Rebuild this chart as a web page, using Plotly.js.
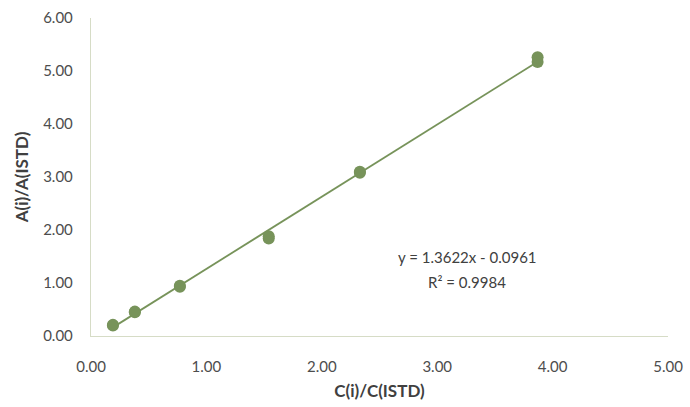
<!DOCTYPE html>
<html>
<head>
<meta charset="utf-8">
<script src="https://cdn.plot.ly/plotly-3.0.1.min.js"></script>
<style>html,body{margin:0;padding:0;background:#fff}#chart{width:690px;height:407px}</style>
</head>
<body>
<div id="chart"></div>
<script>
// Data
const concRatio = [0.19, 0.19, 0.38, 0.38, 0.77, 0.77, 1.54, 1.54, 2.33, 2.33, 3.87, 3.87];
const areaRatio = [0.20, 0.21, 0.45, 0.46, 0.93, 0.95, 1.84, 1.88, 3.08, 3.10, 5.17, 5.26];
const slope = 1.3622;
const intercept = -0.0961;
const rSquared = 0.9984;
const xTicks = [0, 1, 2, 3, 4, 5];
const yTicks = [0, 1, 2, 3, 4, 5, 6];

const xMin = Math.min(...concRatio), xMax = Math.max(...concRatio);
const trendX = [xMin, xMax];
const trendY = trendX.map(v => slope * v + intercept);

const green = '#77935a';
const font = 'Lato, "Open Sans", "Liberation Sans", sans-serif';

const data = [
  {x: trendX, y: trendY, mode: 'lines', type: 'scatter',
   line: {color: green, width: 1.8}, hoverinfo: 'skip', showlegend: false},
  {x: concRatio, y: areaRatio, mode: 'markers', type: 'scatter',
   marker: {color: green, size: 12}, showlegend: false}
];

const layout = {
  width: 690, height: 407,
  margin: {l: 91, r: 22, t: 18, b: 71},
  paper_bgcolor: '#fff', plot_bgcolor: '#fff',
  font: {family: font, size: 15, color: '#4d4d4d'},
  xaxis: {
    range: [0, 5], tickvals: xTicks, ticktext: xTicks.map(v => v.toFixed(2)),
    showgrid: false, zeroline: false, showline: true, linecolor: '#d6dcc6', linewidth: 1.2,
    ticks: 'outside', ticklen: 17, tickcolor: 'rgba(0,0,0,0)',
    title: {text: '<b>C(i)/C(ISTD)</b>', font: {size: 17, color: '#404040', family: font}, standoff: 10}
  },
  yaxis: {
    range: [0, 6], tickvals: yTicks, ticktext: yTicks.map(v => v.toFixed(2)),
    showgrid: false, zeroline: false, showline: true, linecolor: '#d6dcc6', linewidth: 1.2,
    ticks: 'outside', ticklen: 14, tickcolor: 'rgba(0,0,0,0)',
    title: {text: '<b>A(i)/A(ISTD)</b>', font: {size: 17, color: '#404040', family: font}, standoff: 10}
  },
  annotations: [
    {xref: 'x', yref: 'y', x: 3.26, y: 1.49, showarrow: false,
     text: 'y = ' + slope.toFixed(4) + 'x - ' + Math.abs(intercept).toFixed(4),
     font: {size: 15, color: '#404040', family: font}},
    {xref: 'x', yref: 'y', x: 3.26, y: 1.02, showarrow: false,
     text: 'R² = ' + rSquared.toFixed(4),
     font: {size: 15, color: '#404040', family: font}}
  ]
};

Plotly.newPlot('chart', data, layout, {displayModeBar: false, staticPlot: true});
</script>
</body>
</html>
